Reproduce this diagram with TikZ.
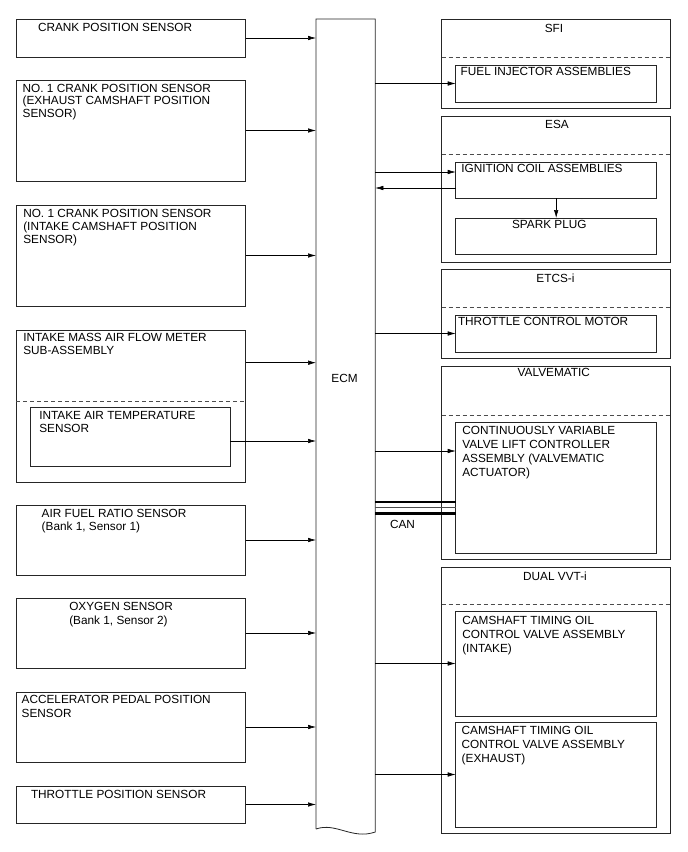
\documentclass[tikz,border=0pt]{standalone}
\usepackage{fontspec}
\setmainfont{Liberation Sans}
\usetikzlibrary{arrows.meta}
\begin{document}
\begin{tikzpicture}[x=1pt,y=-1pt,
 box/.style={draw=black!85,line width=0.8pt,inner sep=0pt,outer sep=0pt,anchor=north west},
 obox/.style={box,line width=1pt},
 lbox/.style={box,minimum width=229.7pt},
 ibox/.style={box,minimum width=201pt},
 rbox/.style={obox,minimum width=229pt},
 txt/.style={inner sep=0pt,outer sep=0pt,anchor=north west,align=left,font=\fontsize{11.8}{13.3}\selectfont},
 ctxt/.style={inner sep=0pt,outer sep=0pt,anchor=north,font=\fontsize{11.8}{13.3}\selectfont},
 arr/.style={line width=0.6pt,-{Latex[length=8pt,width=4.5pt]}},
 dsh/.style={draw=black!70,line width=0.7pt,dash pattern=on 4pt off 3pt},
 canline/.style={line width=2.6pt},
 canthin/.style={line width=0.6pt,draw=black!70},
]
\useasboundingbox (0,0) rectangle (688,852);

% ---- left column boxes
\node[lbox,minimum height=38pt] (cps) at (16,19) {};
\node[lbox,minimum height=101pt] (ecps) at (16,80) {};
\node[lbox,minimum height=101pt] (icps) at (16,205) {};
\node[lbox,minimum height=152pt] (maf) at (16,330) {};
\node[box,minimum width=200pt,minimum height=59pt] (iat) at (30,407) {};
\node[lbox,minimum height=70pt] (afr) at (16,505) {};
\node[lbox,minimum height=70pt] (oxs) at (16,598) {};
\node[lbox,minimum height=70pt] (apps) at (16,692) {};
\node[lbox,minimum height=37pt] (tps) at (16,786) {};
\draw[dsh] ([yshift=-71pt]maf.north west) -- ([yshift=-71pt]maf.north east);

% ---- ECM
\node[inner sep=0pt,outer sep=0pt,anchor=north west,minimum width=59.3pt,minimum height=811pt] (ecm) at (316,19) {};
\draw[line width=0.8pt,draw=black!85] ([yshift=1pt]ecm.south west) -- (ecm.north west) -- (ecm.north east) -- ([yshift=-2pt]ecm.south east)
  .. controls (352,840) and (336,822) .. ([yshift=1pt]ecm.south west);
\node[inner sep=0pt,font=\fontsize{11.8}{13.3}\selectfont] (ecmt) at (344.5,378) {ECM};

% ---- right column boxes
\node[rbox,minimum height=89pt] (sfi) at (441.7,19) {};
\node[ibox,minimum height=37pt] (fia) at (455.7,65) {};
\node[rbox,minimum height=146pt] (esa) at (441.7,116) {};
\node[ibox,minimum height=36pt] (ign) at (455.7,162) {};
\node[ibox,minimum height=36pt] (spk) at (455.7,218) {};
\node[rbox,minimum height=89pt] (etcs) at (441.7,269) {};
\node[ibox,minimum height=37pt] (tcm) at (455.7,315) {};
\node[rbox,minimum height=193pt] (vm) at (441.7,366) {};
\node[ibox,minimum height=131pt] (cvvl) at (455.7,422) {};
\node[rbox,minimum height=266pt] (dvvt) at (441.7,567) {};
\node[ibox,minimum height=105pt] (ocvi) at (455.7,611) {};
\node[ibox,minimum height=105pt] (ocve) at (455.7,722) {};

\draw[dsh] ([yshift=-38pt]sfi.north west) -- ([yshift=-38pt]sfi.north east);
\draw[dsh] ([yshift=-38pt]esa.north west) -- ([yshift=-38pt]esa.north east);
\draw[dsh] ([yshift=-38pt]etcs.north west) -- ([yshift=-38pt]etcs.north east);
\draw[dsh] ([yshift=-49pt]vm.north west) -- ([yshift=-49pt]vm.north east);
\draw[dsh] ([yshift=-37pt]dvvt.north west) -- ([yshift=-37pt]dvvt.north east);

% ---- texts left
\node[txt] (tcps) at (38,23) {CRANK POSITION SENSOR};
\node[txt,font=\fontsize{11.8}{12.6}\selectfont] (tecps) at (22.7,84) {NO. 1 CRANK POSITION SENSOR\\(EXHAUST CAMSHAFT POSITION\\SENSOR)};
\node[txt] (ticps) at (23.3,209) {NO. 1 CRANK POSITION SENSOR\\(INTAKE CAMSHAFT POSITION\\SENSOR)};
\node[txt] (tmaf) at (23.3,333.3) {INTAKE MASS AIR FLOW METER\\SUB-ASSEMBLY};
\node[txt] (tiat) at (39.3,411) {INTAKE AIR TEMPERATURE\\SENSOR};
\node[txt] (tafr) at (41.7,509) {AIR FUEL RATIO SENSOR\\(Bank 1, Sensor 1)};
\node[txt] (toxs) at (69.3,602.7) {OXYGEN SENSOR\\(Bank 1, Sensor 2)};
\node[txt] (tapps) at (21.7,695.7) {ACCELERATOR PEDAL POSITION\\SENSOR};
\node[txt] (ttps) at (31,790) {THROTTLE POSITION SENSOR};

% ---- texts right
\node[ctxt] (tsfi) at (554,24) {SFI};
\node[txt] (tfia) at (460.7,67.3) {FUEL INJECTOR ASSEMBLIES};
\node[ctxt] (tesa) at (557,120) {ESA};
\node[txt] (tign) at (461.3,164.3) {IGNITION COIL ASSEMBLIES};
\node[ctxt] (tspk) at (549.3,220.3) {SPARK PLUG};
\node[ctxt] (tetcs) at (555.5,274.3) {ETCS-i};
\node[txt] (ttcm) at (458,317.7) {THROTTLE CONTROL MOTOR};
\node[ctxt] (tvm) at (553.8,368.3) {VALVEMATIC};
\node[txt,font=\fontsize{11.8}{14}\selectfont] (tcvvl) at (462.3,426.7) {CONTINUOUSLY VARIABLE\\VALVE LIFT CONTROLLER\\ASSEMBLY (VALVEMATIC\\ACTUATOR)};
\node[ctxt] (tcan) at (402.5,520) {CAN};
\node[ctxt] (tdvvt) at (555,571.7) {DUAL VVT-i};
\node[txt,font=\fontsize{11.8}{14}\selectfont] (tocvi) at (462.3,616) {CAMSHAFT TIMING OIL\\CONTROL VALVE ASSEMBLY\\(INTAKE)};
\node[txt,font=\fontsize{11.8}{14}\selectfont] (tocve) at (461.7,726) {CAMSHAFT TIMING OIL\\CONTROL VALVE ASSEMBLY\\(EXHAUST)};

% ---- arrows left -> ECM
\draw[arr] (cps.east) -- (cps.east -| ecm.west);
\draw[arr] (ecps.east) -- (ecps.east -| ecm.west);
\draw[arr] (icps.east) -- (icps.east -| ecm.west);
\coordinate (mafo) at ([yshift=43.3pt]maf.east);
\draw[arr] (mafo) -- (mafo -| ecm.west);
\coordinate (iato) at ([yshift=-4.5pt]iat.east);
\draw[arr] (iato) -- (iato -| ecm.west);
\draw[arr] (afr.east) -- (afr.east -| ecm.west);
\draw[arr] (oxs.east) -- (oxs.east -| ecm.west);
\draw[arr] (apps.east) -- (apps.east -| ecm.west);
\draw[arr] (tps.east) -- (tps.east -| ecm.west);

% ---- arrows ECM -> right
\draw[arr] (fia.west -| ecm.east) -- (fia.west);
\coordinate (ignin) at ([yshift=8pt]ign.west);
\coordinate (ignout) at ([yshift=-8pt]ign.west);
\draw[arr] (ignin -| ecm.east) -- (ignin);
\draw[arr] (ignout) -- (ignout -| ecm.east);
\draw[arr] (ign.south) -- (spk.north);
\draw[arr] (tcm.west -| ecm.east) -- (tcm.west);
\coordinate (cvin) at ([yshift=36.5pt]cvvl.west);
\draw[arr] (cvin -| ecm.east) -- (cvin);
\draw[arr] (ocvi.west -| ecm.east) -- (ocvi.west);
\draw[arr] (ocve.west -| ecm.east) -- (ocve.west);

% ---- CAN bus
\coordinate (cana) at ([yshift=-14.5pt]cvvl.west);
\coordinate (canb) at ([yshift=-20pt]cvvl.west);
\coordinate (canc) at ([yshift=-26pt]cvvl.west);
\draw[canline] (cana -| ecm.east) -- (cana);
\draw[canthin] (canb -| ecm.east) -- (canb);
\draw[canline] (canc -| ecm.east) -- (canc);
\end{tikzpicture}
\end{document}
